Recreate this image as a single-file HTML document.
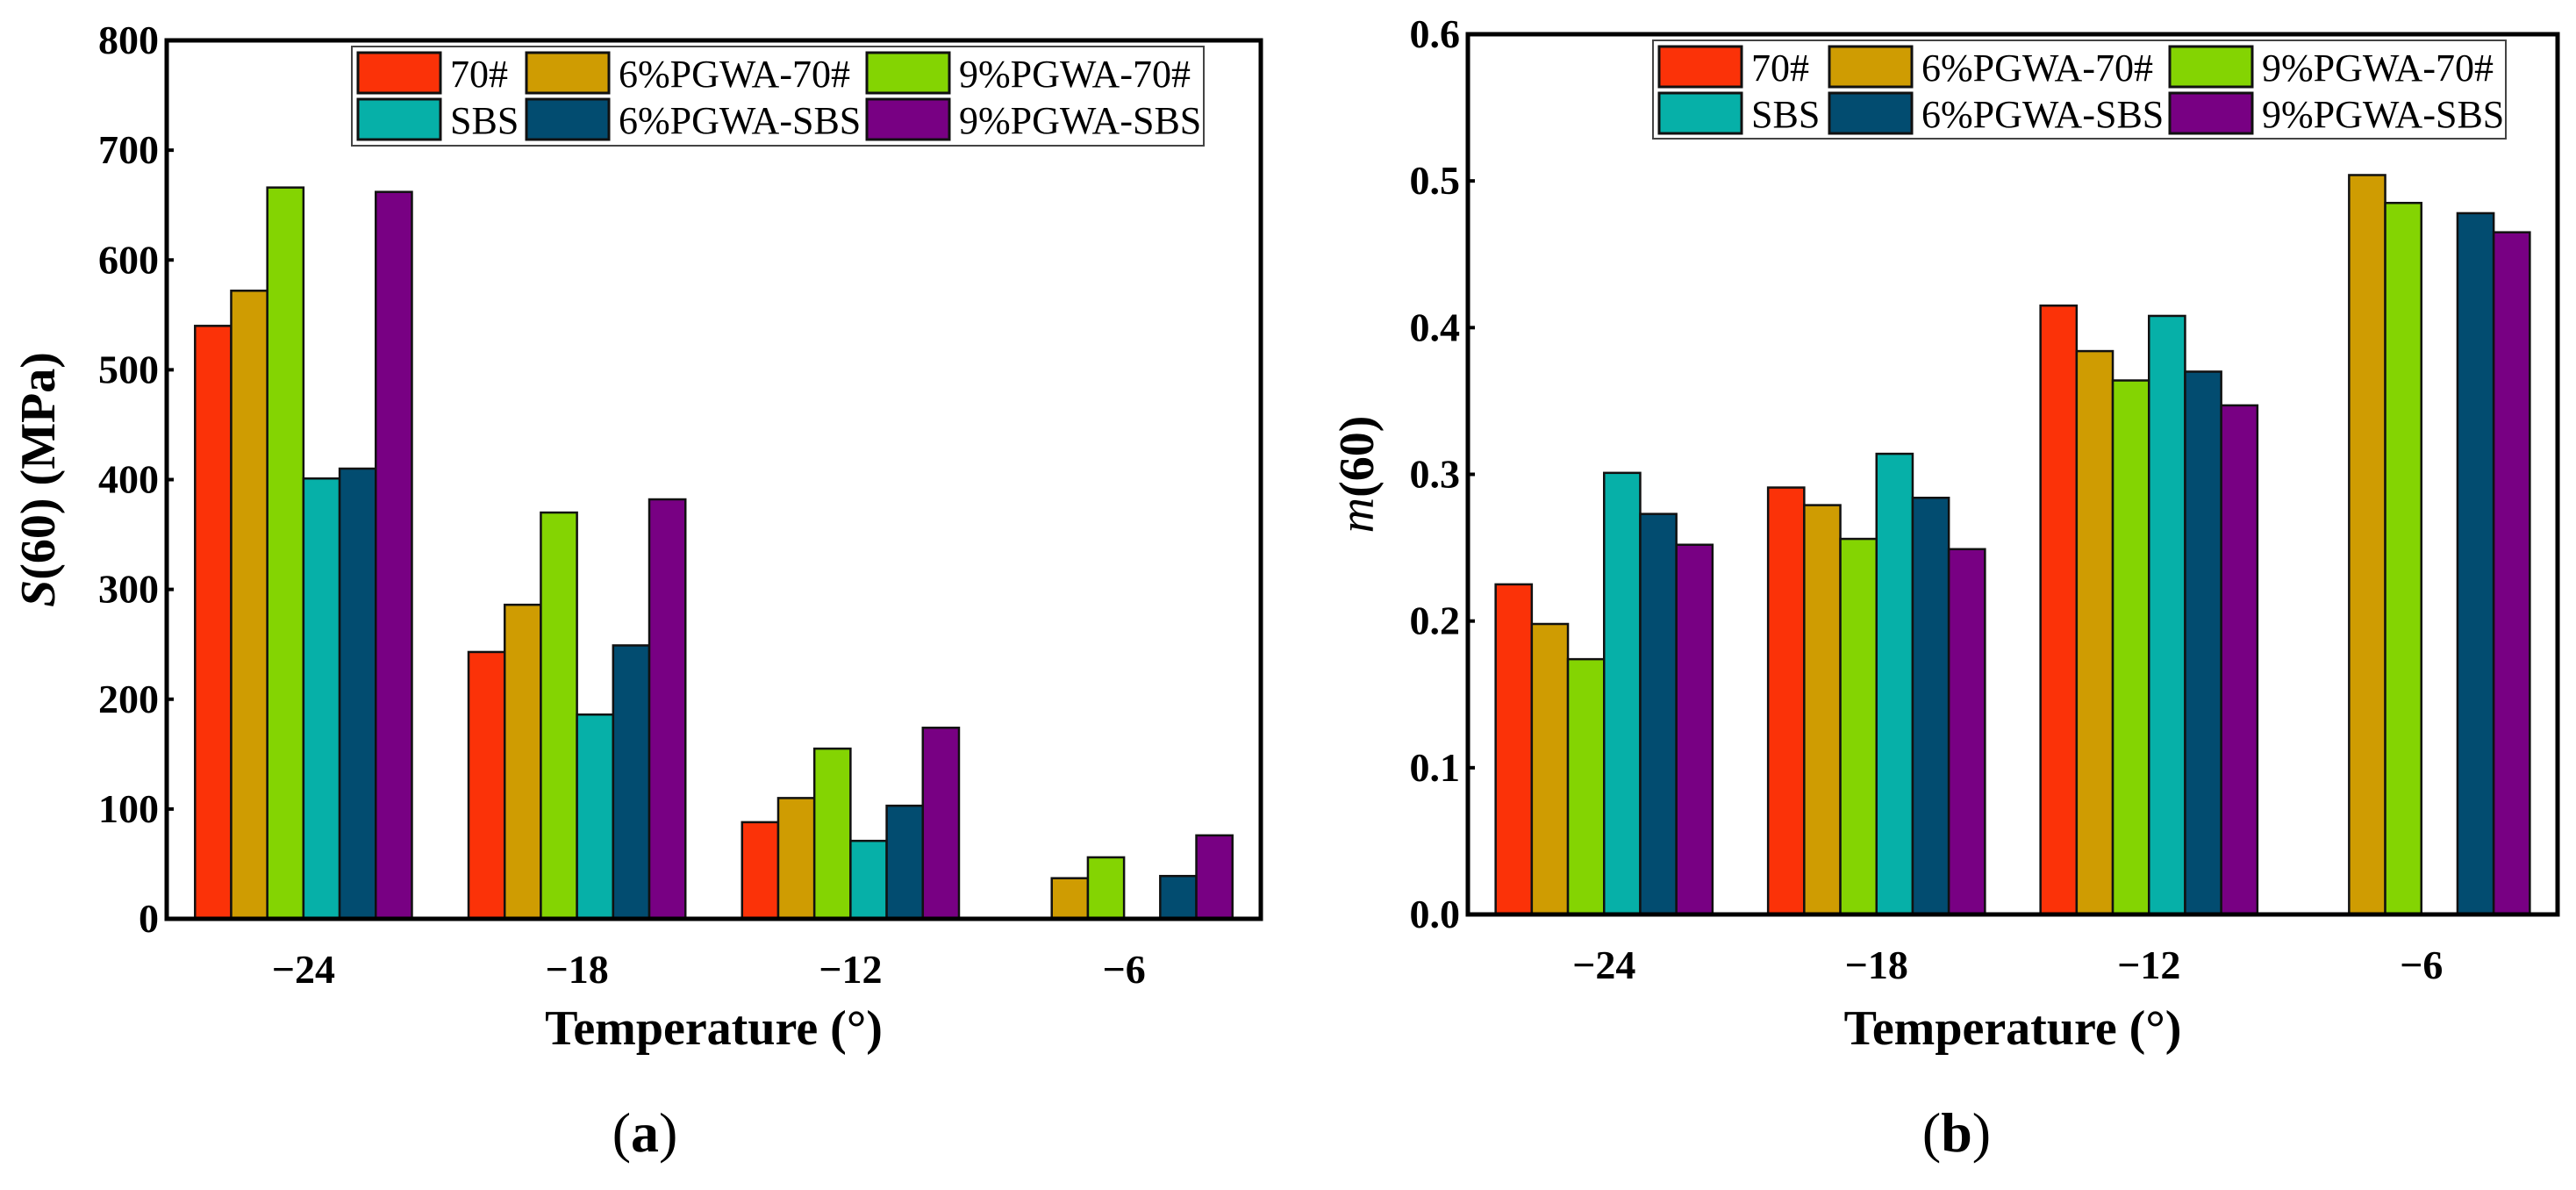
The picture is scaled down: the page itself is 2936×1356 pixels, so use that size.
<!DOCTYPE html>
<html><head><meta charset="utf-8"><style>
html,body{margin:0;padding:0;background:#fff}
svg{display:block;font-family:"Liberation Serif","Times New Roman",Times,serif}
svg text{font-family:"Liberation Serif","Times New Roman",Times,serif}
</style></head><body>
<svg id="fig" width="2936" height="1356" viewBox="0 0 2936 1356" xmlns="http://www.w3.org/2000/svg" font-family="Liberation Serif, Times New Roman, serif"></svg>
<script>
const categories = ["\u221224","\u221218","\u221212","\u22126"];
const seriesNames = ["70#","6%PGWA-70#","9%PGWA-70#","SBS","6%PGWA-SBS","9%PGWA-SBS"];
const colors = ["#FB3208","#CF9C02","#84D402","#06B0A8","#024C70","#780083"];
const s70 = [540,243,88,0];
const s6p70 = [572,286,110,37];
const s9p70 = [666,370,155,56];
const sSBS = [401,186,71,0];
const s6pSBS = [410,249,103,39];
const s9pSBS = [662,382,174,76];
const m70 = [0.225,0.291,0.415,0];
const m6p70 = [0.198,0.279,0.384,0.504];
const m9p70 = [0.174,0.256,0.364,0.485];
const mSBS = [0.301,0.314,0.408,0];
const m6pSBS = [0.273,0.284,0.370,0.478];
const m9pSBS = [0.252,0.249,0.347,0.465];
const ticksA = [0,100,200,300,400,500,600,700,800];
const tickLabelsA = ["0","100","200","300","400","500","600","700","800"];
const ticksB = [0,0.1,0.2,0.3,0.4,0.5,0.6];
const tickLabelsB = ["0.0","0.1","0.2","0.3","0.4","0.5","0.6"];

const NS="http://www.w3.org/2000/svg";
const svg=document.getElementById('fig');
const FF="Liberation Serif, Times New Roman, serif";
function mk(tag,attrs,parent,txt){const e=document.createElementNS(NS,tag);for(const k in attrs)e.setAttribute(k,attrs[k]);if(tag==='text')e.setAttribute('font-family',FF);if(txt!==undefined)e.textContent=txt;(parent||svg).appendChild(e);return e;}

function chart(cfg){
  const g=mk('g',{});
  
  
  const {L,R,T,B,max}=cfg;
  const y=v=>B-(v/max)*(B-T);
  const band=(R-L)/categories.length;
  const bw=41.2;
  const groupW=bw*seriesNames.length;
  const xg=i=>L+band*i+(band-groupW)/2;
  cfg.series.forEach((arr,s)=>{
    arr.forEach((v,i)=>{
      if(v<=0)return;
      const r=mk('rect',{x:xg(i)+s*bw,y:y(v),width:bw,height:B-y(v),fill:colors[s],stroke:'#111','stroke-width':2.5},g);
      
      
    });
  });
  const f=mk('rect',{x:L,y:T,width:R-L,height:B-T,fill:'none',stroke:'#000','stroke-width':5},g);
  
  
  cfg.ticks.forEach((t,i)=>{
    mk('line',{x1:L,x2:L+8,y1:y(t),y2:y(t),stroke:'#000','stroke-width':4},g);
    const tx=mk('text',{x:L-9,y:y(t)+15,'text-anchor':'end','font-size':46,'font-weight':'bold'},g,cfg.tickLabels[i]);
    
    
  });
  categories.forEach((c,i)=>{
    const tx=mk('text',{x:L+band*(i+0.5),y:B+73,'text-anchor':'middle','font-size':46,'font-weight':'bold'},g,c);
    
    
  });
  const xt=mk('text',{x:(L+R)/2,y:1190,'text-anchor':'middle','font-size':56,'font-weight':'bold'},g,'Temperature (\u00B0)');
  
  
  const yt=mk('text',{transform:`translate(${cfg.ytx},${(T+B)/2}) rotate(-90)`,'text-anchor':'middle','font-size':56,'font-weight':'bold'},g);
  yt.innerHTML=cfg.ytitle;
  
  
  const pl=mk('text',{x:cfg.plx,y:1312,'text-anchor':'middle','font-size':64},g);
  pl.innerHTML='(<tspan font-weight="bold">'+cfg.panel+'</tspan>)';
  
  
  const lg=mk('g',{},g);
  
  
  mk('rect',{x:cfg.lg.x,y:cfg.lg.y,width:cfg.lg.w,height:cfg.lg.h,fill:'#fff',stroke:'#444','stroke-width':2},lg);
  seriesNames.forEach((n,s)=>{
    const col=s%3,row=Math.floor(s/3);
    const sx=cfg.lg.cols[col],sy=cfg.lg.y+7+row*53;
    const e=mk('g',{},lg);
    
    
    mk('rect',{x:sx,y:sy,width:94,height:46,fill:colors[s],stroke:'#111','stroke-width':3},e);
    mk('text',{x:sx+105,y:sy+39,'font-size':44},e,n);
  });
}
chart({name:'chart-a-stiffness',L:190,R:1437,T:46,B:1047,max:800,series:[s70,s6p70,s9p70,sSBS,s6pSBS,s9pSBS],ticks:ticksA,tickLabels:tickLabelsA,ytx:62,ytitle:'<tspan font-style="italic">S</tspan>(60) (MPa)',plx:735,panel:'a',lg:{x:401,y:53,w:971,h:113,cols:[408,600,988]}});
chart({name:'chart-b-m-value',L:1673,R:2915,T:39,B:1042,max:0.6,series:[m70,m6p70,m9p70,mSBS,m6pSBS,m9pSBS],ticks:ticksB,tickLabels:tickLabelsB,ytx:1565,ytitle:'<tspan font-style="italic" font-weight="normal">m</tspan>(60)',plx:2230,panel:'b',lg:{x:1884,y:46,w:972,h:112,cols:[1891,2085,2473]}});
</script>
</body></html>
